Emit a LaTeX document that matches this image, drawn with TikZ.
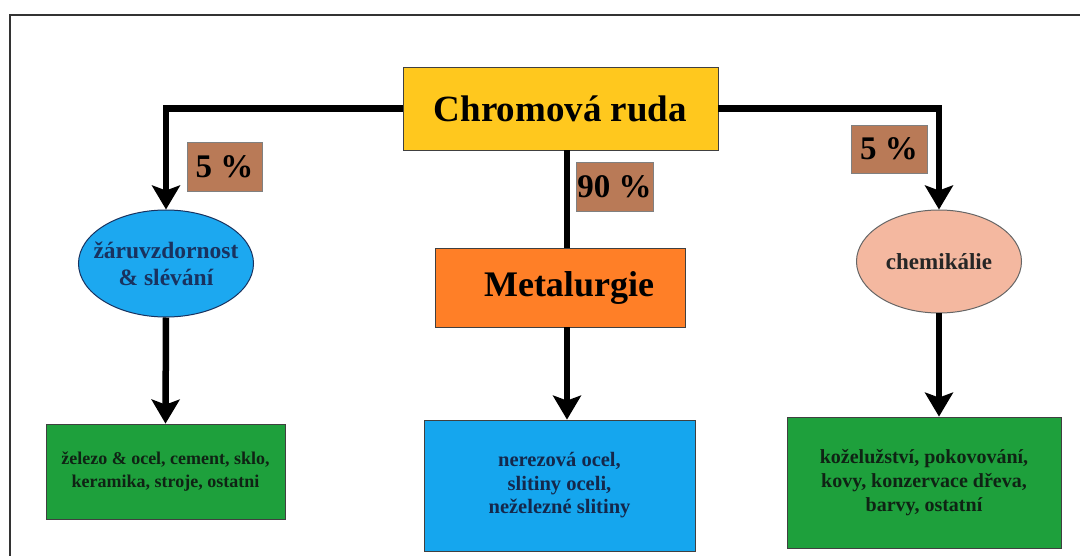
\documentclass[tikz,border=0pt]{standalone}
\usepackage{fontspec}
\setmainfont{Liberation Serif}
\usetikzlibrary{arrows.meta,shapes.geometric,calc}
\definecolor{ruda}{RGB}{255,200,30}
\definecolor{oran}{RGB}{255,127,39}
\definecolor{brn}{RGB}{185,122,87}
\definecolor{skyb}{RGB}{28,168,240}
\definecolor{navy}{RGB}{25,50,95}
\definecolor{peach}{RGB}{244,184,160}
\definecolor{grn}{RGB}{30,160,60}
\definecolor{boxb}{RGB}{21,166,238}
\definecolor{dtxt}{RGB}{15,35,20}
\tikzset{
  x=1pt,y=-1pt,
  box/.style={draw=black!75,line width=0.8pt,inner sep=0pt,align=center,font=\bfseries},
  pct/.style={box,fill=brn,draw=black!50,font=\bfseries\fontsize{33}{33}\selectfont},
  ell/.style={ellipse,draw=navy,line width=1pt,inner sep=0pt},
  etxt/.style={inner sep=0pt,align=center},
  conn/.style={line width=6.5pt},
  arr/.style={conn,-{Stealth[length=24pt,width=28pt,inset=5pt]}},
}
\begin{document}
\begin{tikzpicture}
\useasboundingbox (0,0) rectangle (1080,556);
\fill[white] (0,0) rectangle (1080,556);
\draw[line width=2pt,black!80] (10,556) -- (10,15) -- (1080,15);

\node[box,fill=ruda,minimum width=315,minimum height=83,font=\bfseries\fontsize{37}{37}\selectfont] (chrom) at (560.5,108.5) {Chromová ruda};
\node[box,fill=oran,minimum width=250,minimum height=79,font=\bfseries\fontsize{36}{36}\selectfont] (met) at (560,287.5) {\hspace*{18pt}Metalurgie};
\node[ell,fill=skyb,minimum width=175,minimum height=107] (lell) at (166,263.5) {};
\node[etxt,text=navy,font=\bfseries\fontsize{23.5}{27}\selectfont] (lellt) at (lell) {žáruvzdornost\\\& slévání};
\node[ell,fill=peach,draw=black!60,minimum width=165,minimum height=103] (rell) at (939,261.5) {};
\node[etxt,text=black!85,font=\bfseries\fontsize{23}{27}\selectfont] (rellt) at (rell) {chemikálie};
\node[box,fill=grn,minimum width=239,minimum height=95,text=dtxt,font=\bfseries\fontsize{18}{22.5}\selectfont] (lgr) at (165.5,471.5) {železo \& ocel, cement, sklo,\\keramika, stroje, ostatni};
\node[box,fill=boxb,minimum width=271,minimum height=131,text=navy!80!black,font=\bfseries\fontsize{20.5}{23.5}\selectfont] (mbl) at (559.5,485.5) {nerezová ocel,\\slitiny oceli,\\neželezné slitiny};
\node[box,fill=grn,minimum width=274,minimum height=131,text=dtxt,font=\bfseries\fontsize{20}{24}\selectfont] (rgr) at (924,482.5) {koželužství, pokovování,\\kovy, konzervace dřeva,\\barvy, ostatní};

\node[pct,minimum width=75,minimum height=49] (p1) at (224.5,166.5) {5 \%};
\node[pct,minimum width=77,minimum height=49] (p2) at (614.5,186.5) {90 \%};
\node[pct,minimum width=76,minimum height=48] (p3) at (889,149) {5 \%};

\coordinate (mx) at (567,0);
\draw[arr] (chrom.west) -| (lell.north);
\draw[arr] (chrom.east) -| (rell.north);
\draw[conn] (mx |- chrom.south) -- (mx |- met.north);
\draw[arr] (lell.south) -- (lgr.north);
\draw[arr] (mx |- met.south) -- (mx |- mbl.north);
\draw[arr] (rell.south) -- (rell.south |- rgr.north);
\end{tikzpicture}
\end{document}
